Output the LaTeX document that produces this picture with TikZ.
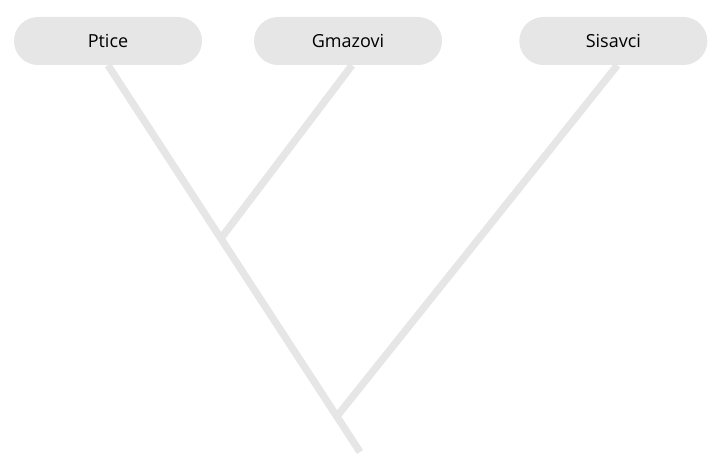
\documentclass[tikz,border=0pt]{standalone}
\usepackage{fontspec}
\setmainfont{Open Sans}
\begin{document}
\begin{tikzpicture}[x=1pt,y=-1pt,
  pill/.style={fill=pillgray,rounded corners=18pt,minimum width=141pt,minimum height=36pt,inner sep=0pt,font=\fontsize{13.5}{16}\selectfont},
  branch/.style={draw=linegray,line width=5.5pt}]
\definecolor{pillgray}{HTML}{E6E6E6}
\definecolor{linegray}{HTML}{E6E6E6}
\useasboundingbox (0,0) rectangle (540,349.5);
\node[pill] (p) at (81,30.75) {Ptice};
\node[pill] (g) at (261,30.75) {Gmazovi};
\node[pill] (s) at (460,30.75) {Sisavci};
\coordinate (j1) at (166.5,177.75);
\coordinate (j2) at (253.5,311.25);
\coordinate (r) at (270,339);
\draw[branch] (p.south) -- (r);
\draw[branch] ([xshift=3pt]g.south) -- (j1);
\draw[branch] ([xshift=3pt]s.south) -- (j2);
\end{tikzpicture}
\end{document}
